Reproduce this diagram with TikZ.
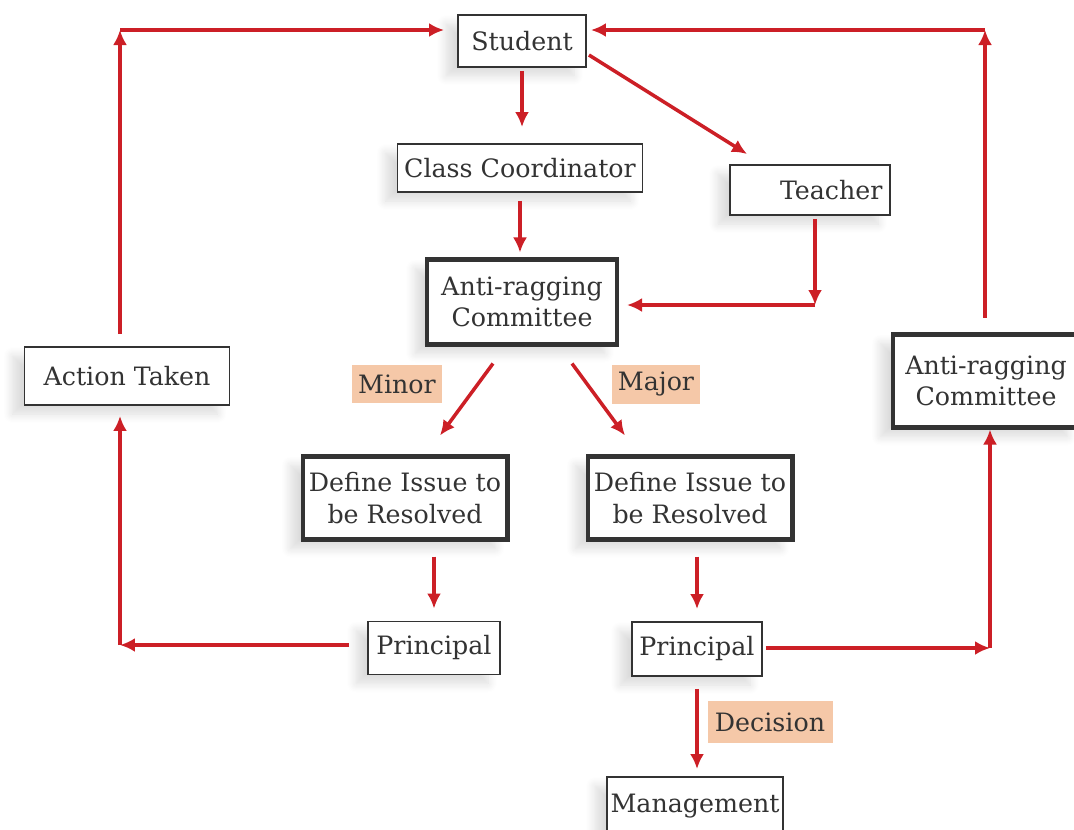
\documentclass[tikz,border=0pt]{standalone}
\usepackage{fontspec}
\setmainfont{DejaVu Serif}
\usetikzlibrary{arrows.meta,positioning,calc,shadows.blur}
\definecolor{flowred}{HTML}{CC1F26}
\definecolor{tagpeach}{HTML}{F5C8A8}
\definecolor{inkdark}{HTML}{333333}

\begin{document}
\begin{tikzpicture}[
  x=0.02cm, y=-0.02cm,
  >={Latex[length=0.3cm,width=0.28cm]},
  every node/.style={font=\fontsize{14.4}{18}\selectfont, text=inkdark},
  sbox/.style={draw=inkdark, line width=1.1pt, fill=white, align=center, inner sep=2pt,
    blur shadow={shadow xshift=-0.24cm, shadow yshift=-0.18cm, shadow opacity=14, shadow blur radius=0.18cm, shadow blur steps=10}},
  tbox/.style={sbox, line width=2.3pt},
  tag/.style={fill=tagpeach, inner sep=2pt},
  flow/.style={->, line width=2pt, flowred}
]
\useasboundingbox (0,0) rectangle (1074,829);

% boxes
\node[sbox, minimum width=2.56cm, minimum height=1.04cm] (student) at (522,41) {Student};
\node[sbox, minimum width=4.9cm, minimum height=0.96cm] (coord) at (520,168) {Class Coordinator};
\node[sbox, minimum width=3.2cm, minimum height=1.0cm, text width=2.9cm, align=right, inner xsep=0.15cm] (teacher) at (810,190) {Teacher};
\node[tbox, minimum width=3.8cm, minimum height=1.7cm] (arc) at (522,302) {Anti-ragging\\Committee};
\node[sbox, minimum width=4.1cm, minimum height=1.16cm] (action) at (127,376) {Action Taken};
\node[tbox, minimum width=3.74cm, minimum height=1.86cm] (arcright) at (986,381) {Anti-ragging\\Committee};
\node[tbox, minimum width=4.1cm, minimum height=1.66cm] (defl) at (405,498) {Define Issue to\\be Resolved};
\node[tbox, minimum width=4.1cm, minimum height=1.66cm] (defr) at (690,498) {Define Issue to\\be Resolved};
\node[sbox, minimum width=2.64cm, minimum height=1.06cm] (prinl) at (434,648) {Principal};
\node[sbox, minimum width=2.6cm, minimum height=1.08cm] (prinr) at (697,649) {Principal};
\node[sbox, minimum width=3.52cm, minimum height=1.16cm] (mgmt) at (695,806) {Management};

% tags
\node[tag, minimum width=1.82cm, minimum height=0.76cm] (minor) at (397,384) {Minor};
\node[tag, minimum width=1.76cm, minimum height=0.78cm] (major) at (656,384) {Major};
\node[tag, minimum width=2.5cm, minimum height=0.84cm] (decision) at (770,722) {Decision};

% bends
\coordinate (ltop) at (120,30);
\coordinate (lbot) at (120,645);
\coordinate (rtop) at (985,30);
\coordinate (rbot) at (990,648);
\coordinate (tbend) at (815,305);

\draw[flow, shorten <=0.06cm, shorten >=0.32cm] (student.south) -- (student.south |- coord.north);
\draw[flow] ($(student.east)+(2,14)$) -- ($(teacher.north west)+(18,-10)$);
\draw[flow, shorten <=0.16cm, shorten >=0.1cm] (coord.south) -- (coord.south |- arc.north);
\draw[flow, shorten <=0.06cm] (teacher.south -| tbend) -- (tbend);
\draw[flow, shorten >=0.16cm] (tbend) -- (tbend -| arc.east);
\draw[flow] ($(arc.south)+(-29,17)$) -- ($(defl.north)+(35,-19)$);
\draw[flow] ($(arc.south)+(50,17)$) -- ($(defr.north)+(-65,-19)$);
\draw[flow, shorten <=0.3cm, shorten >=0.24cm] (defl.south -| prinl) -- (prinl.north);
\draw[flow, shorten <=0.3cm, shorten >=0.24cm] (defr.south -| prinr) -- (prinr.north);
\draw[flow, shorten <=0.36cm] (prinl.west |- lbot) -- (lbot);
\draw[flow, shorten >=0.2cm] (lbot) -- (lbot |- action.south);
\draw[flow, shorten <=0.24cm] (action.north -| ltop) -- (ltop);
\draw[flow, shorten >=0.26cm] (ltop) -- (student.west |- ltop);
\draw[flow, shorten <=0.06cm] (prinr.east |- rbot) -- (rbot);
\draw[flow] (rbot) -- (rbot |- arcright.south);
\draw[flow, shorten <=0.3cm] (arcright.north -| rtop) -- (rtop);
\draw[flow, shorten >=0.08cm] (rtop) -- (student.east |- rtop);
\draw[flow, shorten <=0.24cm, shorten >=0.14cm] (prinr.south) -- (prinr.south |- mgmt.north);
\end{tikzpicture}
\end{document}
